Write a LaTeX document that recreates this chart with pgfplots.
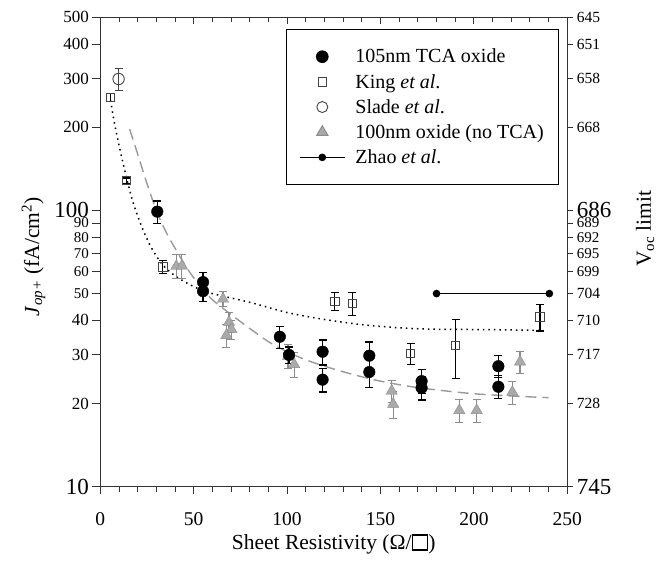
\documentclass[border=0pt]{standalone}
\usepackage{fontspec}
\setmainfont{Liberation Serif}
\usepackage{pgfplots}
\pgfplotsset{compat=1.18}
\definecolor{trifill}{HTML}{AAAAAA}
\definecolor{triedge}{HTML}{8C8C8C}
\definecolor{dashc}{HTML}{999999}
\definecolor{sqedge}{HTML}{444444}
\newcommand{\fsX}{\fontsize{19.5}{19.5}\selectfont}
\newcommand{\fsM}{\fontsize{17}{17}\selectfont}
\newcommand{\fsS}{\fontsize{15}{15}\selectfont}
\newcommand{\fsR}{\fontsize{15.5}{15.5}\selectfont}
\newcommand{\fsB}{\fontsize{23}{23}\selectfont}
\newcommand{\fsT}{\fontsize{21.5}{21.5}\selectfont}
\newcommand{\fsL}{\fontsize{20}{22}\selectfont}
\newcommand{\sqsym}{{\fboxsep=0pt\fboxrule=1.8pt\fbox{\rule{0pt}{0.62em}\rule{0.62em}{0pt}}}}
\pgfplotsset{legend image code/.code={\draw[mark repeat=2,mark phase=2,#1] plot coordinates {(0pt,0pt) (22.5pt,0pt) (45pt,0pt)};}}
\begin{document}
\begin{tikzpicture}
\path[use as bounding box] (0,0) rectangle (662pt,565pt);
\begin{axis}[at={(100.3pt,78.3pt)}, anchor=south west, scale only axis,
  width=467pt, height=469.4pt, xmin=0, xmax=250, ymin=10, ymax=500, ymode=log,
  axis line style={line width=1pt, black!80},
  xtick={0,50,100,150,200,250}, xticklabels={0,50,100,150,200,250},
  minor xtick={10,20,30,40,60,70,80,90,110,120,130,140,160,170,180,190,210,220,230,240},
  xtick pos=bottom, tick align=outside,
  major tick length=7pt, minor tick length=5pt,
  tick style={line width=0.9pt, black!80},
  ytick=\empty,
  xticklabel style={font=\fsX, yshift=-15pt},
  xlabel={Sheet Resistivity (Ω/\sqsym)},
  xlabel style={font=\fsT, at={(axis description cs:0.5,-0.122)}, anchor=center},
  legend style={at={(0.397,0.974)}, anchor=north west, draw=black, line width=1pt,
    font=\fsL, inner xsep=13pt, inner ysep=17pt, row sep=5.8pt, column sep=8pt},
  legend cell align=left,
]
\addplot[black, line width=1.5pt, dash pattern=on 1.5pt off 4pt, smooth, forget plot] coordinates {
 (5.5,250) (8,200) (12,150) (17,110) (22,88) (27,74) (33,64) (40,58) (50,53) (60,50)
 (80,46.5) (100,42.7) (120,40.3) (140,38.6) (160,37.6) (175,37.2) (190,37.1) (210,37.0) (235,36.8)};
\addplot[dashc, line width=1.4pt, dash pattern=on 11pt off 6pt, smooth, forget plot] coordinates {
 (15.7,197) (20,160) (25,125) (30,100) (35,84) (40,73) (45,64) (50,57) (55,52) (60,47.5)
 (70,42) (80,37.4) (90,33.5) (100,30.8) (110,28.8) (120,27.3) (135,25.5) (150,24.1)
 (165,23.1) (180,22.4) (200,21.7) (220,21.3) (240,21.0)};
\addplot[only marks, mark=triangle*, mark size=6.5pt, mark options={fill=trifill, draw=triedge},
  forget plot, error bars/.cd, y dir=both, y explicit,
  error bar style={line width=1.1pt, triedge}, error mark options={rotate=90, mark size=4pt, line width=1.1pt, triedge}]
 coordinates {
 (40.7,62.8) +- (0,6.2)
 (43.7,63) +- (0,6.2)
 (65.7,47.8) +- (0,3)
 (68.9,39.4) +- (0,3.2)
 (70.2,37.1) +- (0,3)
 (67.5,35.3) +- (0,3.4)
 (100.5,29.7) +- (0,3)
 (103.8,27.7) +- (0,2.8)
 (156,22.2) +- (0,2.1)
 (156.8,19.9) +- (0,2.2)
 (192.2,18.9) +- (0,1.8)
 (201.5,18.9) +- (0,1.8)
 (220.6,22.0) +- (0,2.1)
 (224.7,28.3) +- (0,2.6)
 };
\addplot[only marks, mark=square, mark size=4.2pt, mark options={fill=white, draw=sqedge, line width=1pt},
  forget plot, error bars/.cd, y dir=both, y explicit,
  error bar style={line width=1.1pt, black}, error mark options={rotate=90, mark size=4pt, line width=1.1pt, black}]
 coordinates {
 (5.5,256) +- (0,8)
 (13.9,128) +- (0,3)
 (33.5,62.4) +- (0,3.5)
 (125.6,46.9) +- (0,3.5)
 (135,46.0) +- (0,4.5)
 (166.1,30.3) +- (0,2.6)
 (190.2,32.5) +- (0,7.8)
 (235.4,41.2) +- (0,4.6)
 };
\addplot[only marks, mark=o, mark size=5.7pt, mark options={draw=sqedge, fill=white, line width=0.9pt},
  forget plot, error bars/.cd, y dir=both, y explicit,
  error bar style={line width=1.1pt, sqedge}, error mark options={rotate=90, mark size=4pt, line width=1.1pt, sqedge}]
 coordinates { (9.8,299) +- (0,28) };
\addplot[only marks, mark=*, mark size=5.8pt, mark options={fill=black, draw=black},
  forget plot, error bars/.cd, y dir=both, y explicit,
  error bar style={line width=1.3pt, black}, error mark options={rotate=90, mark size=4pt, line width=1.3pt, black}]
 coordinates {
 (30.5,99) +- (0,9.2)
 (55,55) +- (0,4.5)
 (55,51) +- (0,4.3)
 (96.1,34.9) +- (0,3.2)
 (101,30) +- (0,2)
 (119,30.8) +- (0,3.2)
 (119,24.4) +- (0,2.4)
 (144,29.8) +- (0,3.6)
 (144,26.0) +- (0,3.2)
 (172,24.1) +- (0,2.4)
 (172,22.8) +- (0,2.2)
 (213.1,27.3) +- (0,2.5)
 (213.1,23.0) +- (0,2.2)
 };
\addplot[black, line width=1.2pt, mark=*, mark size=3.2pt, forget plot] coordinates {(180,50) (240.4,50)};
\addlegendimage{only marks, mark=*, mark size=5.8pt, black}
\addlegendentry{105nm TCA oxide}
\addlegendimage{only marks, mark=square, mark size=4.2pt, mark options={draw=sqedge, fill=white, line width=1pt}}
\addlegendentry{King \textit{et al}.}
\addlegendimage{only marks, mark=o, mark size=5.5pt, mark options={draw=sqedge, line width=0.9pt}}
\addlegendentry{Slade \textit{et al}.}
\addlegendimage{only marks, mark=triangle*, mark size=6.5pt, mark options={fill=trifill, draw=triedge}}
\addlegendentry{100nm oxide (no TCA)}
\addlegendimage{black, line width=1.2pt, mark=*, mark size=3.2pt}
\addlegendentry{Zhao \textit{et al}.}
\end{axis}
\begin{axis}[at={(100.3pt,78.3pt)}, anchor=south west, scale only axis,
  width=467pt, height=469.4pt, xmin=0, xmax=250, ymin=10, ymax=500, ymode=log,
  axis line style={line width=1pt, black!80},
  axis x line*=top, axis y line=none, tick align=inside,
  xtick={0,50,100,150,200,250}, xticklabels={},
  minor xtick={10,20,30,40,60,70,80,90,110,120,130,140,160,170,180,190,210,220,230,240},
  major tick length=7pt, minor tick length=5pt,
  tick style={line width=0.9pt, black!80},
]
\addplot[draw=none, forget plot] coordinates {(100,20)};
\end{axis}
\begin{axis}[at={(100.3pt,78.3pt)}, anchor=south west, scale only axis,
  width=467pt, height=469.4pt, xmin=0, xmax=250, ymin=10, ymax=500, ymode=log,
  axis line style={line width=1pt, black!80},
  axis x line=none, axis y line*=left, tick align=outside,
  major tick length=8pt, tick style={line width=0.9pt, black!80},
  ytick={10,20,30,40,50,60,70,80,90,100,200,300,400,500},
  yticklabels={{\fsB 10},{\fsM 20},{\fsM 30},{\fsM 40},{\fsS 50},{\fsS 60},{\fsS 70},{\fsS 80},{\fsS 90},{\fsB 100},{\fsM 200},{\fsM 300},{\fsM 400},{\fsM 500}},
  ylabel={\textit{J}\textsubscript{\textit{op+}} (fA/cm\textsuperscript{2})},
  ylabel style={font=\fsT, at={(axis description cs:-0.143,0.49)}, anchor=center},
]
\addplot[draw=none, forget plot] coordinates {(100,20)};
\end{axis}
\begin{axis}[at={(100.3pt,78.3pt)}, anchor=south west, scale only axis,
  width=467pt, height=469.4pt, xmin=0, xmax=250, ymin=10, ymax=500, ymode=log,
  axis line style={line width=1pt, black!80},
  axis x line=none, axis y line*=right, tick align=outside,
  major tick length=6pt, tick style={line width=0.9pt, black!80},
  ytick={10,20,30,40,50,60,70,80,90,100,200,300,400,500},
  yticklabels={{\fsB 745},{\fsR 728},{\fsR 717},{\fsR 710},{\fsR 704},{\fsS 699},{\fsS 695},{\fsS 692},{\fsS 689},{\fsB 686},{\fsR 668},{\fsR 658},{\fsR 651},{\fsR 645}},
  ylabel={V\textsubscript{oc} limit},
  ylabel style={font=\fsT, at={(axis description cs:1.1665,0.55)}, anchor=center},
]
\addplot[draw=none, forget plot] coordinates {(100,20)};
\end{axis}
\end{tikzpicture}
\end{document}
